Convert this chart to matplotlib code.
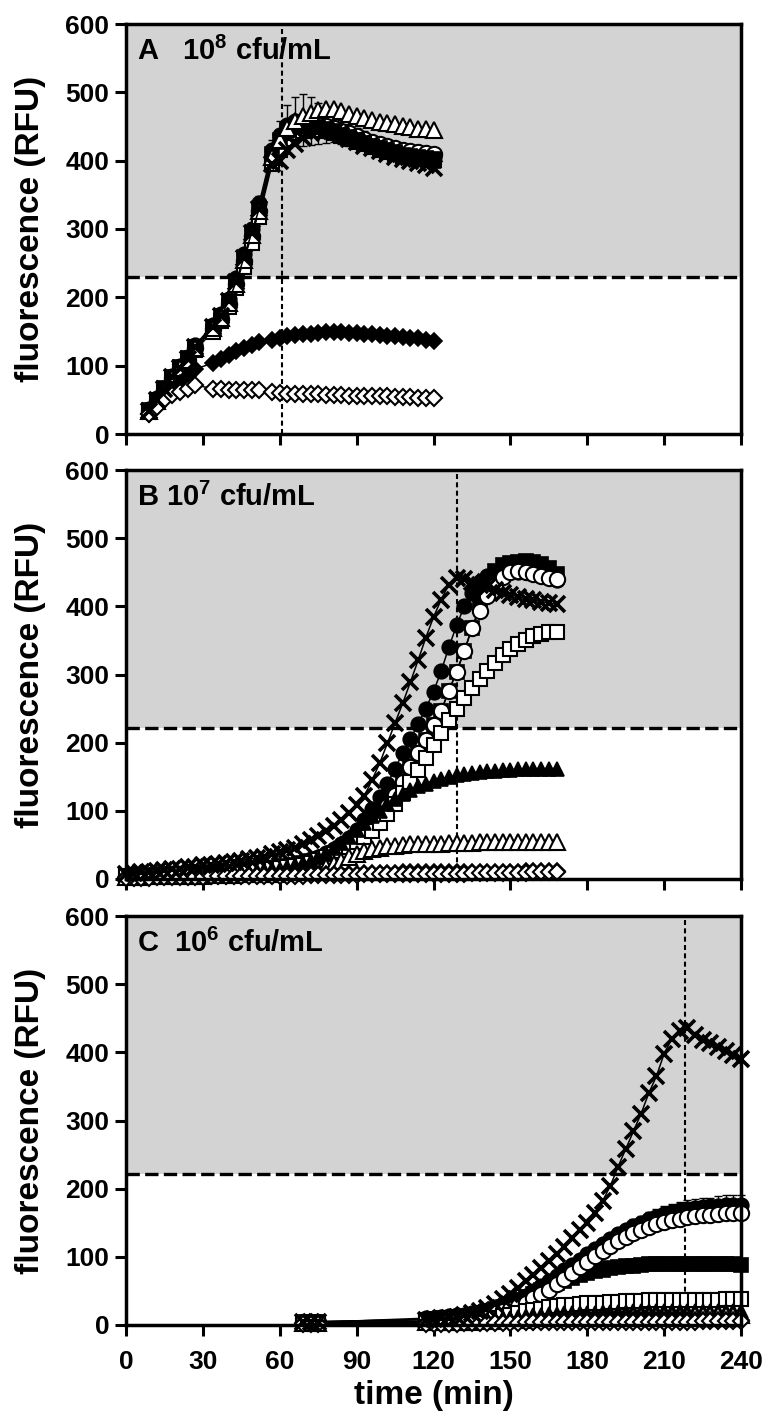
import matplotlib
matplotlib.use('Agg')
import matplotlib.pyplot as plt

plt.rcParams['font.family'] = ['Liberation Sans', 'DejaVu Sans']
plt.rcParams['font.weight'] = 'bold'
plt.rcParams['mathtext.fontset'] = 'custom'
plt.rcParams['mathtext.rm'] = 'Liberation Sans:bold'
plt.rcParams['mathtext.bf'] = 'Liberation Sans:bold'
plt.rcParams['mathtext.default'] = 'rm'

# ---------------- Panel A (10^8 cfu/mL) ----------------
A_time = [9, 12, 15, 18, 21, 24, 27, 34, 37, 40, 43, 46, 49, 52, 57, 60, 63, 66, 69, 72, 75, 78,
          81, 84, 87, 90, 93, 96, 99, 102, 105, 108, 111, 114, 117, 120]
A_sq_f = [35, 50, 67, 84, 98, 111, 128, 157, 172, 194, 223, 258, 294, 330, 410, 430, 445, 450, 452, 452,
          450, 447, 443, 438, 434, 430, 426, 422, 418, 415, 412, 409, 407, 405, 404, 403]
A_sq_o = [33, 47, 63, 80, 94, 107, 123, 150, 165, 186, 214, 245, 280, 318, 395, 415, 432, 440, 444, 446,
          445, 443, 440, 436, 432, 428, 424, 420, 416, 413, 410, 407, 405, 403, 402, 401]
A_ci_f = [36, 52, 68, 85, 100, 113, 130, 160, 176, 198, 228, 263, 300, 338, 415, 438, 452, 458, 460, 458,
          455, 451, 447, 442, 437, 433, 429, 425, 421, 418, 415, 412, 410, 408, 406, 405]
A_ci_f_err = [3, 3, 3, 3, 3, 3, 4, 5, 5, 6, 7, 8, 9, 10, 15, 20, 30, 35, 38, 35, 30, 25, 20, 18, 16, 15,
              14, 13, 12, 12, 11, 11, 10, 10, 10, 10]
A_ci_o = [34, 49, 65, 82, 96, 109, 126, 154, 169, 190, 219, 253, 290, 326, 405, 425, 442, 450, 454, 455,
          454, 451, 448, 444, 440, 436, 432, 428, 425, 422, 419, 416, 414, 412, 411, 410]
A_tr_f = [35, 50, 66, 83, 97, 110, 127, 156, 171, 193, 222, 256, 292, 328, 408, 428, 443, 449, 451, 451,
          449, 446, 442, 437, 433, 429, 425, 421, 417, 414, 411, 408, 406, 404, 402, 400]
A_tr_o = [34, 49, 65, 82, 96, 109, 126, 155, 170, 191, 220, 255, 291, 327, 405, 430, 448, 458, 465, 470,
          474, 476, 475, 472, 469, 466, 463, 460, 457, 455, 453, 451, 449, 447, 446, 445]
A_x = [34, 50, 66, 83, 97, 110, 127, 156, 172, 194, 223, 258, 294, 330, 395, 400, 415, 425, 433, 440,
       444, 445, 442, 438, 432, 427, 422, 418, 414, 410, 406, 402, 399, 396, 393, 390]
A_di_f = [30, 42, 55, 65, 75, 85, 95, 104, 110, 116, 121, 126, 130, 134, 138, 141, 143, 145, 146, 147,
          148, 149, 149, 149, 148, 148, 147, 146, 145, 144, 143, 142, 141, 140, 138, 136]
A_di_o = [30, 40, 50, 57, 62, 66, 72, 66, 66, 65, 65, 65, 64, 64, 62, 60, 59, 59, 58, 58,
          58, 57, 57, 57, 56, 56, 56, 55, 55, 55, 54, 54, 54, 53, 53, 52]

# ---------------- Panel B (10^7 cfu/mL) ----------------
B_time = [0, 3, 6, 9, 12, 15, 18, 21, 24, 27, 30, 33, 36, 39, 42, 45, 48, 51, 54, 57,
          60, 63, 66, 69, 72, 75, 78, 81, 84, 87, 90, 93, 96, 99, 102, 105, 108, 111, 114, 117,
          120, 123, 126, 129, 132, 135, 138, 141, 144, 147, 150, 153, 156, 159, 162, 165, 168]
B_x = [8, 9, 10, 11, 12, 13, 14, 15, 17, 18, 20, 21, 22, 24, 25, 27, 29, 31, 33, 36,
       39, 42, 46, 51, 57, 63, 70, 78, 87, 97, 108, 122, 145, 170, 199, 229, 258, 289, 321, 354,
       384, 410, 432, 442, 440, 436, 432, 428, 424, 420, 417, 414, 411, 409, 407, 405, 403]
B_ci_f = [5, 5, 6, 6, 7, 7, 8, 8, 9, 9, 10, 10, 11, 11, 12, 13, 14, 15, 16, 17,
          18, 20, 22, 25, 29, 33, 38, 44, 51, 60, 72, 86, 102, 120, 140, 162, 185, 205, 228, 250,
          275, 305, 340, 372, 400, 420, 435, 445, 450, 452, 452, 451, 450, 448, 445, 442, 438]
B_ci_o = [4, 4, 5, 5, 6, 6, 7, 7, 8, 8, 9, 9, 10, 11, 11, 12, 13, 14, 15, 16,
          17, 19, 21, 23, 26, 29, 33, 38, 43, 48, 56, 66, 80, 92, 107, 123, 143, 164, 185, 204,
          226, 247, 276, 304, 334, 368, 393, 415, 432, 443, 450, 452, 450, 448, 445, 442, 440]
B_sq_f = [4, 4, 5, 5, 6, 6, 7, 7, 8, 8, 9, 9, 10, 11, 11, 12, 13, 14, 15, 16,
          17, 19, 21, 23, 26, 29, 33, 38, 43, 48, 56, 66, 80, 92, 107, 123, 143, 164, 185, 204,
          226, 247, 276, 304, 334, 368, 400, 430, 452, 460, 464, 465, 466, 465, 462, 456, 448]
B_sq_o = [4, 4, 5, 5, 5, 6, 6, 7, 7, 8, 8, 9, 9, 10, 10, 11, 12, 13, 14, 15,
          16, 17, 19, 21, 24, 28, 32, 36, 41, 47, 54, 62, 71, 82, 95, 110, 126, 143, 160, 178,
          196, 214, 233, 250, 266, 280, 293, 305, 317, 328, 337, 345, 351, 356, 359, 362, 363]
B_tr_f = [4, 4, 5, 5, 5, 6, 6, 6, 7, 7, 8, 8, 9, 9, 10, 10, 11, 12, 13, 14,
          15, 17, 20, 23, 27, 32, 38, 45, 53, 62, 72, 82, 92, 100, 110, 118, 125, 131, 136, 140,
          144, 147, 150, 152, 154, 156, 157, 158, 159, 160, 160, 161, 161, 162, 162, 162, 162]
B_tr_o = [3, 3, 3, 4, 4, 4, 4, 5, 5, 5, 5, 6, 6, 6, 6, 7, 7, 7, 8, 8,
          8, 9, 9, 10, 11, 13, 17, 22, 27, 32, 37, 41, 44, 46, 48, 49, 50, 51, 51, 52,
          52, 52, 53, 53, 53, 53, 54, 54, 54, 54, 54, 55, 55, 55, 55, 55, 55]
B_di_f = [3, 3, 3, 3, 4, 4, 4, 4, 4, 4, 5, 5, 5, 5, 5, 5, 6, 6, 6, 6,
          6, 6, 7, 7, 7, 7, 8, 8, 8, 8, 8, 9, 9, 9, 9, 9, 10, 10, 10, 10,
          10, 10, 10, 11, 11, 11, 11, 11, 11, 11, 11, 11, 12, 12, 12, 12, 12]
B_di_o = [2, 2, 2, 2, 3, 3, 3, 3, 3, 3, 3, 4, 4, 4, 4, 4, 4, 5, 5, 5,
          5, 5, 5, 5, 6, 6, 6, 6, 6, 6, 6, 7, 7, 7, 7, 7, 7, 8, 8, 8,
          8, 8, 8, 8, 8, 9, 9, 9, 9, 9, 9, 9, 9, 10, 10, 10, 10]

# ---------------- Panel C (10^6 cfu/mL) ----------------
C_time = [69, 72, 75, 117, 120, 123, 126, 129, 132, 135, 138, 141, 144, 147, 150, 153, 156, 159, 162,
          165, 168, 171, 174, 177, 180, 183, 186, 189, 192, 195, 198, 201, 204, 207, 210, 213, 216,
          219, 222, 225, 228, 231, 234, 237, 240]
C_x = [5, 5, 5, 8, 9, 10, 11, 12, 14, 17, 20, 25, 31, 38, 46, 55, 64, 74, 84, 94, 104, 115, 127,
       139, 150, 165, 182, 204, 232, 258, 284, 310, 340, 365, 398, 420, 432, 436, 426, 418, 414,
       408, 402, 396, 390]
C_ci_f = [4, 4, 4, 10, 11, 12, 13, 14, 15, 17, 19, 21, 24, 27, 30, 36, 43, 50, 57, 64, 72, 80, 88,
          96, 104, 112, 119, 126, 133, 139, 145, 150, 155, 159, 163, 166, 168, 170, 172, 173, 174,
          175, 176, 176, 176]
C_ci_f_err = [1, 1, 1, 1, 1, 1, 1, 1, 1, 1, 2, 2, 2, 2, 2, 3, 3, 3, 4, 4, 5, 5, 6,
              6, 7, 7, 8, 8, 9, 9, 10, 10, 11, 11, 12, 12, 12, 13, 13, 13, 13, 14, 14, 14, 14]
C_ci_o = [4, 4, 4, 8, 9, 10, 10, 11, 12, 13, 14, 16, 18, 21, 24, 28, 33, 39, 45, 52, 60, 68, 76,
          85, 93, 101, 109, 116, 123, 129, 135, 140, 144, 148, 151, 154, 156, 158, 160, 161, 162,
          163, 164, 164, 164]
C_sq_f = [5, 5, 5, 8, 9, 10, 11, 12, 13, 15, 17, 20, 23, 27, 31, 36, 41, 46, 51, 56, 61, 65, 69,
          73, 76, 79, 81, 83, 85, 86, 87, 88, 89, 89, 90, 90, 90, 90, 90, 90, 90, 89, 89, 89, 88]
C_sq_o = [3, 3, 3, 5, 5, 6, 6, 7, 7, 8, 9, 10, 11, 13, 15, 17, 20, 22, 24, 26, 28, 29, 30,
          31, 32, 33, 33, 34, 34, 35, 35, 35, 36, 36, 36, 36, 37, 37, 37, 37, 37, 37, 38, 38, 38]
C_tr_f = [4, 4, 4, 5, 5, 5, 6, 6, 6, 7, 7, 8, 9, 10, 11, 12, 13, 14, 15, 16, 16, 17, 17,
          18, 18, 18, 19, 19, 19, 19, 20, 20, 20, 20, 20, 20, 20, 20, 20, 20, 20, 20, 20, 20, 20]
C_tr_o = [3, 3, 3, 4, 4, 4, 5, 5, 5, 5, 6, 6, 6, 7, 7, 8, 8, 9, 9, 10, 10, 10, 11,
          11, 11, 12, 12, 12, 12, 12, 13, 13, 13, 13, 13, 13, 13, 13, 14, 14, 14, 14, 14, 14, 14]
C_di_f = [3, 3, 3, 3, 3, 3, 3, 3, 4, 4, 4, 4, 4, 5, 5, 5, 5, 5, 6, 6, 6, 6, 6,
          6, 7, 7, 7, 7, 7, 7, 7, 8, 8, 8, 8, 8, 8, 8, 8, 8, 8, 8, 8, 8, 8]
C_di_o = [2, 2, 2, 2, 2, 2, 2, 2, 3, 3, 3, 3, 3, 3, 3, 3, 4, 4, 4, 4, 4, 4, 4,
          4, 4, 5, 5, 5, 5, 5, 5, 5, 5, 5, 5, 5, 5, 5, 5, 6, 6, 6, 6, 6, 6]

# reference lines: threshold (dashed) and time-to-positive (dotted)
thresholds = [230, 222, 222]
cut_times = [61, 129, 218]
panel_letters = ['A', 'B', 'C']
panel_exponents = ['8', '7', '6']
panel_gaps = ['   ', ' ', '  ']

x_ticks = [0, 30, 60, 90, 120, 150, 180, 210, 240]
y_ticks = [0, 100, 200, 300, 400, 500, 600]

styles = {
    'ci_f': dict(marker='o', mfc='black', mec='black', ms=10.5, mew=1.2),
    'ci_o': dict(marker='o', mfc='white', mec='black', ms=11, mew=1.5),
    'sq_o': dict(marker='s', mfc='white', mec='black', ms=10, mew=1.5),
    'sq_f': dict(marker='s', mfc='black', mec='black', ms=9.5, mew=1.2),
    'tr_f': dict(marker='^', mfc='black', mec='black', ms=10, mew=1.2),
    'tr_o': dict(marker='^', mfc='white', mec='black', ms=11, mew=1.5),
    'di_f': dict(marker='D', mfc='black', mec='black', ms=8, mew=1.2),
    'di_o': dict(marker='D', mfc='white', mec='black', ms=8, mew=1.5),
    'x':    dict(marker='x', mfc='black', mec='black', ms=11, mew=2.6),
}
orders = [
    ['ci_f', 'ci_o', 'sq_o', 'sq_f', 'tr_f', 'tr_o', 'di_f', 'di_o', 'x'],
    ['sq_f', 'ci_f', 'ci_o', 'sq_o', 'tr_f', 'tr_o', 'di_f', 'di_o', 'x'],
    ['sq_f', 'ci_f', 'ci_o', 'sq_o', 'tr_f', 'tr_o', 'di_f', 'di_o', 'x'],
]

panels = [
    (A_time, {'sq_f': A_sq_f, 'sq_o': A_sq_o, 'ci_f': A_ci_f, 'ci_o': A_ci_o, 'tr_f': A_tr_f,
              'tr_o': A_tr_o, 'x': A_x, 'di_f': A_di_f, 'di_o': A_di_o}, {'ci_f': A_ci_f_err}),
    (B_time, {'sq_f': B_sq_f, 'sq_o': B_sq_o, 'ci_f': B_ci_f, 'ci_o': B_ci_o, 'tr_f': B_tr_f,
              'tr_o': B_tr_o, 'x': B_x, 'di_f': B_di_f, 'di_o': B_di_o}, {}),
    (C_time, {'sq_f': C_sq_f, 'sq_o': C_sq_o, 'ci_f': C_ci_f, 'ci_o': C_ci_o, 'tr_f': C_tr_f,
              'tr_o': C_tr_o, 'x': C_x, 'di_f': C_di_f, 'di_o': C_di_o}, {'ci_f': C_ci_f_err}),
]

W, H = 766.0, 1414.0
left_px, right_px = 126, 741
tops = [24, 470, 916]
bottoms = [434, 879, 1325]

fig = plt.figure(figsize=(W / 100, H / 100), dpi=100)

for i, (t, series, errs) in enumerate(panels):
    ax = fig.add_axes([left_px / W, 1 - bottoms[i] / H, (right_px - left_px) / W,
                       (bottoms[i] - tops[i]) / H])
    ax.set_xlim(0, 240)
    ax.set_ylim(0, 600)
    ax.axhspan(thresholds[i], 600, color='#d3d3d3', zorder=0, lw=0)
    ax.axhline(thresholds[i], color='black', lw=2.4, linestyle=(0, (4, 1.6)), zorder=1)
    ax.axvline(cut_times[i], color='black', lw=1.5, linestyle=(0, (2.4, 1.6)), zorder=1)

    for z, key in enumerate(orders[i]):
        y = series[key]
        st = styles[key]
        if key in errs:
            ax.errorbar(t, y, yerr=errs[key], fmt='none', ecolor='black', elinewidth=1.0,
                        capsize=3, capthick=1.0, zorder=2 + z, clip_on=False)
        ax.plot(t, y, color='black', lw=1.1, zorder=2 + z, clip_on=False, **st)

    for s in ax.spines.values():
        s.set_linewidth(2.5)
        s.set_zorder(20)
    ax.set_xticks(x_ticks)
    ax.set_yticks(y_ticks)
    ax.tick_params(direction='out', length=8, width=2.2, labelsize=19)
    ax.tick_params(axis='y', pad=4)
    ax.tick_params(axis='x', pad=10)
    if i < 2:
        ax.tick_params(axis='x', labelbottom=False)
    ax.set_ylabel('fluorescence (RFU)', fontsize=24, fontweight='bold', va='center')
    ax.yaxis.set_label_coords(-0.155, 0.5)

    ax.text(0.018, 0.912,
            panel_letters[i] + panel_gaps[i] + '10$^{' + panel_exponents[i] + '}$ cfu/mL',
            transform=ax.transAxes, ha='left', va='baseline', fontsize=21,
            fontweight='bold', zorder=30)

    if i == 2:
        ax.set_xlabel('time (min)', fontsize=24, fontweight='bold', labelpad=4)

fig.savefig('out.png', dpi=100)
